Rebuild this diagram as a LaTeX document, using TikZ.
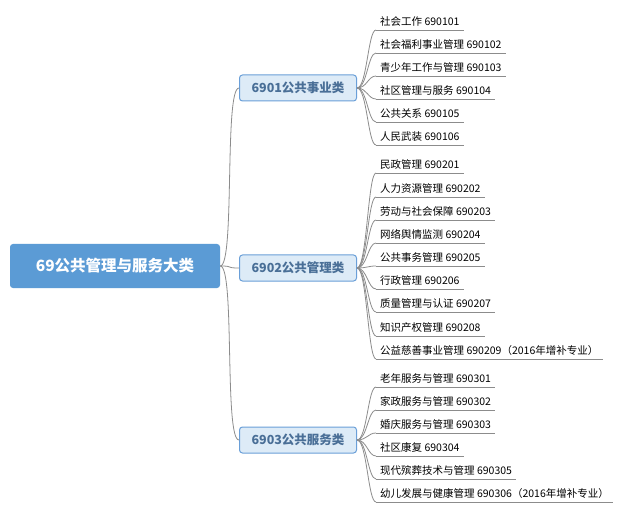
\documentclass[tikz,border=0pt]{standalone}
\usepackage{fontspec}
\setmainfont{Noto Sans CJK SC}
\begin{document}
\begin{tikzpicture}[x=1pt,y=-1pt,
  conn/.style={draw=black!45,line width=0.8pt},
  rootbox/.style={fill=rootblue,rounded corners=3pt,text=white,font=\fontsize{15.5}{18}\selectfont\bfseries,minimum width=210pt,minimum height=44pt},
  catbox/.style={fill=catfill,draw=catedge,line width=1pt,rounded corners=3pt,text=catedge!70!black,font=\fontsize{12.5}{15}\selectfont\bfseries,minimum width=117pt,minimum height=26pt},
  leaf/.style={anchor=south west,inner xsep=4pt,inner ysep=3pt,font=\fontsize{10.5}{12}\selectfont}]
\definecolor{rootblue}{HTML}{5B9BD5}
\definecolor{catfill}{HTML}{DDEBF7}
\definecolor{catedge}{HTML}{6A9FD8}
\useasboundingbox[fill=white] (0,0) rectangle (640,513);
\node[rootbox] (root) at (115,266) {69公共管理与服务大类};
\node[catbox] (c1) at (298,88) {6901公共事业类};
\node[catbox] (c2) at (298,268) {6902公共管理类};
\node[catbox] (c3) at (298,440) {6903公共服务类};
\foreach \c in {c1,c2,c3}
  \draw[conn] (root.east) .. controls +(15,0) and +(-15,0) .. (\c.west);
\newcommand{\lf}[4]{%
  \node[leaf] (#1) at (376,#3) {#4};
  \draw[conn] (#1.south west) -- (#1.south east);
  \draw[conn] (#2.east) .. controls +(10,0) and +(-8,0) .. (#1.south west);}
\lf{a1}{c1}{30}{社会工作 690101}
\lf{a2}{c1}{53}{社会福利事业管理 690102}
\lf{a3}{c1}{76}{青少年工作与管理 690103}
\lf{a4}{c1}{99}{社区管理与服务 690104}
\lf{a5}{c1}{122}{公共关系 690105}
\lf{a6}{c1}{145}{人民武装 690106}
\lf{b1}{c2}{173}{民政管理 690201}
\lf{b2}{c2}{197}{人力资源管理 690202}
\lf{b3}{c2}{220}{劳动与社会保障 690203}
\lf{b4}{c2}{243}{网络舆情监测 690204}
\lf{b5}{c2}{266}{公共事务管理 690205}
\lf{b6}{c2}{289}{行政管理 690206}
\lf{b7}{c2}{312}{质量管理与认证 690207}
\lf{b8}{c2}{336}{知识产权管理 690208}
\lf{b9}{c2}{359}{公益慈善事业管理 690209（2016年增补专业）}
\lf{d1}{c3}{387}{老年服务与管理 690301}
\lf{d2}{c3}{410}{家政服务与管理 690302}
\lf{d3}{c3}{433}{婚庆服务与管理 690303}
\lf{d4}{c3}{456}{社区康复 690304}
\lf{d5}{c3}{479}{现代殡葬技术与管理 690305}
\lf{d6}{c3}{502}{幼儿发展与健康管理 690306（2016年增补专业）}
\end{tikzpicture}
\end{document}
